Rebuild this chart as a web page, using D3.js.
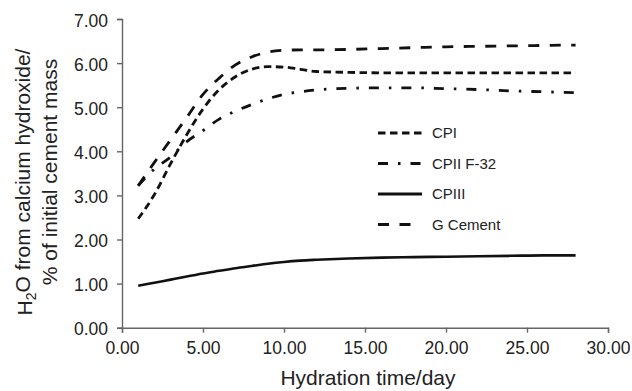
<!DOCTYPE html>
<html>
<head>
<meta charset="utf-8" />
<title>H2O from calcium hydroxide</title>
<style>
  body { margin: 0; background: #fff; }
  svg { display: block; font-family: "Liberation Sans", Arial, sans-serif; }
</style>
</head>
<body>
<svg id="chart" width="632" height="391"></svg>
<script src="https://d3js.org/d3.v7.min.js"></script>
<script>
// days of hydration
var days = [1, 2, 3, 4, 5, 6, 7, 8, 9, 10, 11, 12, 14, 16, 18, 20, 22, 24, 26, 28];

// % of initial cement mass
var cpi    = [2.47, 3.02, 3.72, 4.38, 4.96, 5.40, 5.69, 5.86, 5.92, 5.91, 5.86, 5.81, 5.79, 5.78, 5.78, 5.78, 5.78, 5.78, 5.78, 5.78];
var cpii   = [3.22, 3.60, 3.87, 4.22, 4.47, 4.73, 4.91, 5.06, 5.19, 5.29, 5.35, 5.39, 5.43, 5.44, 5.44, 5.42, 5.40, 5.37, 5.35, 5.33];
var cpiii  = [0.95, 1.02, 1.09, 1.16, 1.23, 1.29, 1.35, 1.40, 1.45, 1.49, 1.52, 1.54, 1.57, 1.59, 1.60, 1.61, 1.62, 1.63, 1.64, 1.64];
var gcem   = [3.22, 3.75, 4.26, 4.77, 5.29, 5.66, 5.96, 6.14, 6.25, 6.29, 6.30, 6.30, 6.31, 6.33, 6.35, 6.37, 6.38, 6.39, 6.40, 6.41];

var xTicks = [0, 5, 10, 15, 20, 25, 30];
var yTicks = [0, 1, 2, 3, 4, 5, 6, 7];

var series = [
  { name: "CPI",        values: cpi,   dash: "7.5,4.5",        legendLen: 44 },
  { name: "CPII F-32",  values: cpii,  dash: "10,10,2.5,10",   legendLen: 44 },
  { name: "CPIII",      values: cpiii, dash: null,             legendLen: 44 },
  { name: "G Cement",   values: gcem,  dash: "11,10.5",        legendLen: 33 }
];

var svg = d3.select("#chart");
var mLeft = 122, mRight = 608, mTop = 19, mBottom = 327.7;

var x = d3.scaleLinear().domain([0, 30]).range([mLeft, mRight]);
var y = d3.scaleLinear().domain([0, 7]).range([mBottom, mTop]);

var axisColor = "#666";
var textColor = "#222";

// x axis
var gx = svg.append("g")
  .attr("transform", "translate(0," + mBottom + ")")
  .call(d3.axisBottom(x).tickValues(xTicks).tickFormat(d3.format(".2f"))
    .tickSizeOuter(0).tickSize(5).tickPadding(9));

// y axis
var gy = svg.append("g")
  .attr("transform", "translate(" + mLeft + ",0)")
  .call(d3.axisLeft(y).tickValues(yTicks).tickFormat(d3.format(".2f"))
    .tickSizeOuter(0).tickSize(5).tickPadding(9));

[gx, gy].forEach(function(g) {
  g.select(".domain").attr("stroke", axisColor).attr("stroke-width", 1.4);
  g.selectAll(".tick line").attr("stroke", axisColor).attr("stroke-width", 1.4);
  g.selectAll(".tick text")
    .attr("fill", textColor)
    .style("font-size", "17.5px")
    .style("font-family", "'Liberation Sans', Arial, sans-serif");
});
gy.selectAll(".tick text").attr("dy", "0.4em");

// lines
var line = d3.line()
  .x(function(d) { return x(d[0]); })
  .y(function(d) { return y(d[1]); })
  .curve(d3.curveMonotoneX);

series.forEach(function(s) {
  var pts = days.map(function(d, i) { return [d, s.values[i]]; });
  svg.append("path")
    .datum(pts)
    .attr("d", line)
    .attr("fill", "none")
    .attr("stroke", "#111")
    .attr("stroke-width", s.dash ? 2.8 : 2.6)
    .attr("stroke-dasharray", s.dash);
});

// legend
var legend = svg.append("g").attr("transform", "translate(378,133)");
series.forEach(function(s, i) {
  var row = legend.append("g").attr("transform", "translate(0," + (i * 30.5) + ")");
  row.append("line")
    .attr("x1", 0).attr("x2", s.legendLen)
    .attr("y1", 0).attr("y2", 0)
    .attr("stroke", "#111")
    .attr("stroke-width", 2.8)
    .attr("stroke-dasharray", s.dash);
  row.append("text")
    .attr("x", 54)
    .attr("dy", "0.36em")
    .attr("fill", textColor)
    .style("font-size", "15px")
    .text(s.name);
});

// axis titles
svg.append("text")
  .attr("x", (mLeft + mRight) / 2 + 3)
  .attr("y", 385)
  .attr("text-anchor", "middle")
  .attr("fill", textColor)
  .style("font-size", "21px")
  .text("Hydration time/day");

var yt = svg.append("text")
  .attr("transform", "translate(32,182) rotate(-90)")
  .attr("text-anchor", "middle")
  .attr("fill", textColor)
  .style("font-size", "21px");
yt.append("tspan").text("H");
yt.append("tspan").attr("dy", "0.3em").style("font-size", "14px").text("2");
yt.append("tspan").attr("dy", "-0.3em").text("O from calcium hydroxide/");

svg.append("text")
  .attr("transform", "translate(57,172) rotate(-90)")
  .attr("text-anchor", "middle")
  .attr("fill", textColor)
  .style("font-size", "21px")
  .text("% of initial cement mass");
</script>
</body>
</html>
